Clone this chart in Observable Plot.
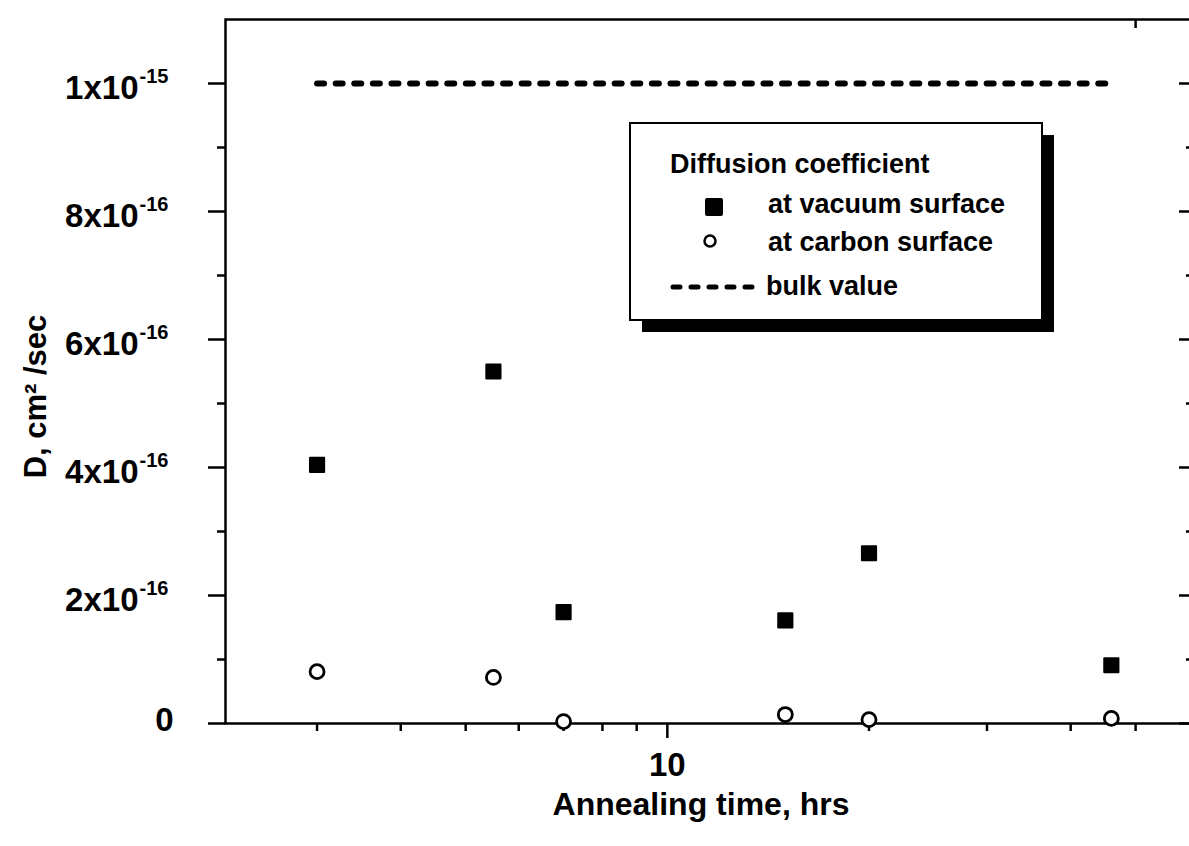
<!DOCTYPE html>
<html><head><meta charset="utf-8">
<script src="https://cdn.jsdelivr.net/npm/d3@7"></script>
<script src="https://cdn.jsdelivr.net/npm/@observablehq/plot@0.6"></script>
<style>
html,body{margin:0;padding:0;background:#fff;overflow:hidden;}
#chart{position:relative;width:1189px;height:846px;overflow:hidden;}
#chart svg{display:block;max-width:none !important;width:1195px !important;height:846px !important;}
</style></head><body><div id="chart"></div>
<script>
// ---- data ----
const annealHours = [3, 5.5, 7, 15, 20, 46];
const dVacuum = [4.04e-16, 5.50e-16, 1.74e-16, 1.61e-16, 2.66e-16, 0.91e-16];
const dCarbon = [0.81e-16, 0.72e-16, 0.03e-16, 0.14e-16, 0.06e-16, 0.08e-16];
const bulkHours = [3, 46];
const bulkD = [1e-15, 1e-15];
const xMajorTicks = [10];
const xMajorLabels = ["10"];
const xMinorTicks = [3, 4, 5, 6, 7, 8, 9, 20, 30, 40, 50];
const xTopTicks = [50];
const yMajorTicks = [0, 2e-16, 4e-16, 6e-16, 8e-16, 1e-15];
const yMantissa = ["0", "2x10", "4x10", "6x10", "8x10", "1x10"];
const yExponent = ["", "-16", "-16", "-16", "-16", "-15"];
const yMinorTicks = [1e-16, 3e-16, 5e-16, 7e-16, 9e-16];
const xTitle = "Annealing time, hrs";
const yTitle = "D, cm² /sec";
const legendTitle = "Diffusion coefficient";
const legendLabels = ["at vacuum surface", "at carbon surface", "bulk value"];

// ---- tables ----
const vacuum = annealHours.map((x, i) => ({x, y: dVacuum[i]}));
const carbon = annealHours.map((x, i) => ({x, y: dCarbon[i]}));
const bulk = bulkHours.map((x, i) => ({x, y: bulkD[i]}));
const yLab = yMajorTicks.map((y, i) => ({y, m: yMantissa[i], e: yExponent[i]}));
const xLab = xMajorTicks.map((x, i) => ({x, t: xMajorLabels[i]}));

const FONT = "'Liberation Sans', Arial, Helvetica, sans-serif";
const tk = {stroke: "#000", strokeWidth: 2.5, tickFormat: () => "", label: null};
const frameH = 723 - 19;

const plot = Plot.plot({
  width: 1195, height: 846,
  marginLeft: 225, marginRight: 3, marginTop: 19, marginBottom: 123,
  style: {fontFamily: FONT, fontWeight: "bold", fontSize: "31px", color: "#000", background: "#fff", overflow: "visible"},
  x: {type: "log", domain: [2.19, 60.8]},
  y: {domain: [0, 1.1e-15]},
  marks: [
    Plot.axisX({...tk, ticks: xMinorTicks, tickSize: 8}),
    Plot.axisX({...tk, ticks: xMajorTicks, tickSize: 15}),
    Plot.tickX(xTopTicks, {x: d => d, stroke: "#000", strokeWidth: 2.5, insetBottom: frameH - 9}),
    Plot.axisY({...tk, ticks: yMajorTicks, tickSize: 17}),
    Plot.axisY({...tk, ticks: yMinorTicks, tickSize: 8}),
    Plot.tickY(yMajorTicks, {y: d => d, stroke: "#000", strokeWidth: 2.5, insetLeft: 967 - 13}),
    Plot.tickY(yMinorTicks, {y: d => d, stroke: "#000", strokeWidth: 2.5, insetLeft: 967 - 6}),
    Plot.frame({stroke: "#000", strokeWidth: 2.5}),
    Plot.line(bulk, {x: "x", y: "y", stroke: "#000", strokeWidth: 6, strokeLinecap: "round", strokeDasharray: "7,11.6"}),
    Plot.dot(vacuum, {x: "x", y: "y", symbol: "square", r: 8, fill: "#000", stroke: "#000", strokeWidth: 2, strokeLinejoin: "round"}),
    Plot.dot(carbon, {x: "x", y: "y", symbol: "circle", r: 7, fill: "#fff", stroke: "#000", strokeWidth: 2.8}),
    // y tick labels
    Plot.text(yLab, {filter: d => d.e !== "", y: "y", text: "m", frameAnchor: "left", textAnchor: "end", lineAnchor: "middle", dx: -87, dy: 5, fontSize: 33, fill: "#000"}),
    Plot.text(yLab, {filter: d => d.e !== "", y: "y", text: "e", frameAnchor: "left", textAnchor: "start", lineAnchor: "middle", dx: -86, dy: -7, fontSize: 20, fill: "#000"}),
    Plot.text(yLab, {filter: d => d.e === "", y: "y", text: "m", frameAnchor: "left", textAnchor: "end", lineAnchor: "middle", dx: -52, dy: -3, fontSize: 33, fill: "#000"}),
    // x tick labels
    Plot.text(xLab, {x: "x", text: "t", frameAnchor: "bottom", lineAnchor: "middle", dy: 42, fontSize: 33, fill: "#000"}),
    // titles
    Plot.text([xTitle], {text: d => d, frameAnchor: "bottom", textAnchor: "middle", lineAnchor: "middle", dx: -8, dy: 81, fontSize: 32, fill: "#000"}),
    Plot.text([yTitle], {text: d => d, frameAnchor: "left", textAnchor: "middle", lineAnchor: "middle", rotate: -90, dx: -189, dy: 25, fontSize: 31, fill: "#000"})
  ]
});

// ---- legend box (drawn into the same SVG) ----
const svg = d3.select(plot);
const lg = svg.append("g").attr("font-family", FONT).attr("font-weight", "bold").attr("font-size", 27).attr("fill", "#000").attr("text-anchor", "start");
lg.append("rect").attr("x", 642).attr("y", 135).attr("width", 412).attr("height", 197).attr("fill", "#000");
lg.append("rect").attr("x", 630).attr("y", 123).attr("width", 412).attr("height", 197).attr("fill", "#fff").attr("stroke", "#000").attr("stroke-width", 2);
lg.append("text").attr("x", 670).attr("y", 173).text(legendTitle);
lg.append("rect").attr("x", 705).attr("y", 198).attr("width", 18).attr("height", 18).attr("rx", 2).attr("fill", "#000");
lg.append("text").attr("x", 768).attr("y", 213).text(legendLabels[0]);
lg.append("circle").attr("cx", 710).attr("cy", 241).attr("r", 5.5).attr("fill", "#fff").attr("stroke", "#000").attr("stroke-width", 2.5);
lg.append("text").attr("x", 768).attr("y", 251).text(legendLabels[1]);
lg.append("line").attr("x1", 673).attr("x2", 760).attr("y1", 287).attr("y2", 287).attr("stroke", "#000").attr("stroke-width", 5).attr("stroke-linecap", "round").attr("stroke-dasharray", "7,11");
lg.append("text").attr("x", 766).attr("y", 295).text(legendLabels[2]);

document.getElementById("chart").appendChild(plot);
</script>
</body></html>
